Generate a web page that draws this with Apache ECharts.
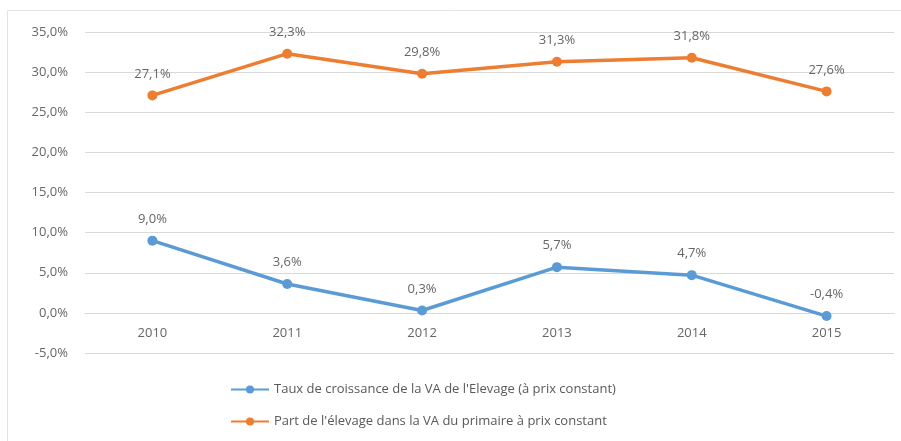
<!DOCTYPE html>
<html>
<head>
<meta charset="utf-8">
<script src="https://cdn.jsdelivr.net/npm/echarts@6/dist/echarts.min.js"></script>
<style>
  html, body { margin: 0; padding: 0; background: #fff; }
  #line-chart { width: 901px; height: 441px; }
</style>
</head>
<body>
<div id="line-chart"></div>
<script>
var years = ['2010', '2011', '2012', '2013', '2014', '2015'];
var croissanceVA = [9.0, 3.6, 0.3, 5.7, 4.7, -0.4];
var partElevage = [27.1, 32.3, 29.8, 31.3, 31.8, 27.6];
var seriesNames = [
    "Taux de croissance de la VA de l'Elevage (à prix constant)",
    "Part de l'élevage dans la VA du primaire à prix constant"
];

var lineChart = echarts.init(document.getElementById('line-chart'));

function pct(v) {
    return v.toFixed(1).replace('.', ',') + '%';
}

var labelStyle = {
    show: true,
    position: 'top',
    distance: 10,
    color: '#666',
    fontSize: 13,
    fontFamily: 'Open Sans',
    formatter: function (p) { return pct(p.value); }
};

var option = {
    animation: false,
    graphic: [{
        type: 'rect',
        shape: { x: 7.5, y: 10.5, width: 900, height: 440 },
        style: { fill: 'none', stroke: '#e3e3e3', lineWidth: 1 }
    }],
    grid: { left: 85, right: 7, top: 32, bottom: 88 },
    legend: {
        orient: 'vertical',
        left: 225,
        top: 378,
        itemGap: 19,
        itemWidth: 38,
        itemHeight: 10,
        textStyle: { color: '#595959', fontSize: 13, fontFamily: 'Open Sans' },
        data: seriesNames
    },
    xAxis: {
        type: 'category',
        data: years,
        // axis sits on the 0% line: one step (5%) above the bottom
        offset: -40,
        axisLine: { onZero: false, lineStyle: { color: '#d9d9d9' } },
        axisTick: { show: false },
        axisLabel: { color: '#666', fontSize: 13, fontFamily: 'Open Sans', margin: 14 }
    },
    yAxis: {
        type: 'value',
        min: -5,
        max: 35,
        interval: 5,
        axisLabel: {
            color: '#666', fontSize: 13, fontFamily: 'Open Sans', margin: 17,
            formatter: function (v) { return pct(v); }
        },
        splitLine: { lineStyle: { color: '#d9d9d9' } }
    },
    series: [{
        name: seriesNames[0],
        type: 'line',
        data: croissanceVA,
        symbol: 'circle',
        symbolSize: 10,
        lineStyle: { color: '#5b9bd5', width: 3.5 },
        itemStyle: { color: '#5b9bd5' },
        label: labelStyle
    }, {
        name: seriesNames[1],
        type: 'line',
        data: partElevage,
        symbol: 'circle',
        symbolSize: 10,
        lineStyle: { color: '#ed7d31', width: 3.5 },
        itemStyle: { color: '#ed7d31' },
        label: labelStyle
    }]
};

lineChart.setOption(option);
</script>
</body>
</html>
